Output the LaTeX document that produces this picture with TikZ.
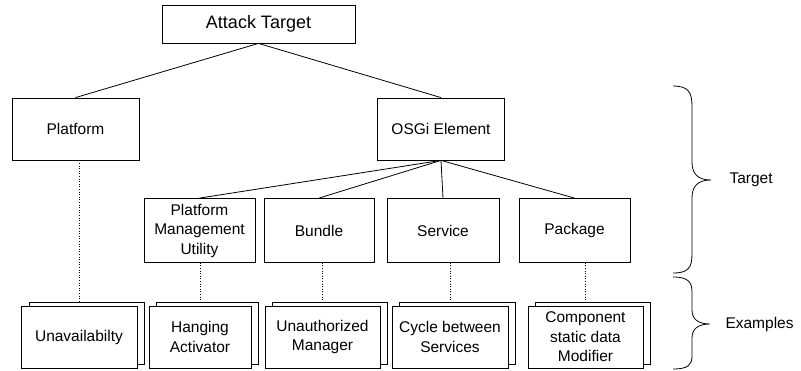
\documentclass[tikz,border=0pt]{standalone}
\usepackage{fontspec}
\setmainfont{Liberation Sans}
\usetikzlibrary{calc}

\begin{document}
\begin{tikzpicture}[x=1pt,y=-1pt,
    box/.style={draw=black, fill=white, line width=0.8pt, align=center, inner sep=2pt,
                font=\fontsize{15.5}{19.5}\selectfont},
    card/.style={box, minimum height=62pt},
    link/.style={line width=0.8pt},
    dots/.style={line width=0.8pt, dash pattern=on 1pt off 1.6pt},
    tag/.style={anchor=west, font=\fontsize{15.5}{19}\selectfont}]
  \useasboundingbox (0,0) rectangle (801,371);

  % top levels
  \node[box, minimum width=193pt, minimum height=38pt, font=\fontsize{18}{20}\selectfont] (target) at (258.5,24) {Attack Target};
  \node[box, minimum width=127pt, minimum height=62pt] (platform) at (75.5,129) {Platform};
  \node[box, minimum width=127pt, minimum height=62pt] (osgi) at (441,129) {OSGi Element};

  \node[box, minimum width=111pt, minimum height=64pt] (pmu) at (199.5,230.5) {Platform\\Management\\Utility};
  \node[box, minimum width=110pt, minimum height=64pt] (bundle) at (319,230.5) {Bundle};
  \node[box, minimum width=112pt, minimum height=64pt] (service) at (443,230.5) {Service};
  \node[box, minimum width=111pt, minimum height=64pt] (package) at (574.5,230.5) {Package};

  \draw[link] (target.south) -- (platform.north);
  \draw[link] (target.south) -- (osgi.north);
  \draw[link] (osgi.south) -- (pmu.north);
  \draw[link] (osgi.south) -- (bundle.north);
  \draw[link] (osgi.south) -- (service.north);
  \draw[link] (osgi.south) -- (package.north);

  % example cards (stacked)
  \node[card, minimum width=115pt] (unavail-b) at (86.5,333) {};
  \node[card, minimum width=116pt] (unavail) at (79,337) {Unavailabilty};
  \node[card, minimum width=102pt] (hanging-b) at (207.5,333) {};
  \node[card, minimum width=102pt] (hanging) at (200,337) {Hanging\\Activator};
  \node[card, minimum width=115pt] (unauth-b) at (330,333) {};
  \node[card, minimum width=115pt] (unauth) at (322.5,337) {Unauthorized\\Manager};
  \node[card, minimum width=116pt] (cycle-b) at (457.5,333) {};
  \node[card, minimum width=116pt] (cycle) at (450,337) {Cycle between\\Services};
  \node[card, minimum width=115pt] (comp-b) at (593,333) {};
  \node[card, minimum width=115pt] (comp) at (585.5,337) {Component\\static data\\Modifier};

  \draw[dots] (platform.south -| unavail) -- (unavail-b.north -| unavail);
  \draw[dots] (pmu.south -| hanging) -- (hanging-b.north -| hanging);
  \draw[dots] (bundle.south -| unauth) -- (unauth-b.north -| unauth);
  \draw[dots] (service.south -| cycle) -- (cycle-b.north -| cycle);
  \draw[dots] (package.south -| comp) -- (comp-b.north -| comp);

  % braces
  \draw[link] (673,86) .. controls (688,86) and (692,92) .. (692,106) -- (692,162)
     .. controls (692,174) and (698,180) .. (711,180)
     .. controls (698,180) and (692,186) .. (692,198) -- (692,254)
     .. controls (692,268) and (688,273) .. (673,273);
  \draw[link] (673,277) .. controls (688,277) and (692,282) .. (692,292) -- (692,310)
     .. controls (692,319) and (698,324) .. (710,324)
     .. controls (698,324) and (692,329) .. (692,338) -- (692,356)
     .. controls (692,365) and (688,369) .. (673,369);
  \node[tag] (target-tag) at (726,180) {Target};
  \node[tag] (examples-tag) at (722,324) {Examples};
\end{tikzpicture}
\end{document}
